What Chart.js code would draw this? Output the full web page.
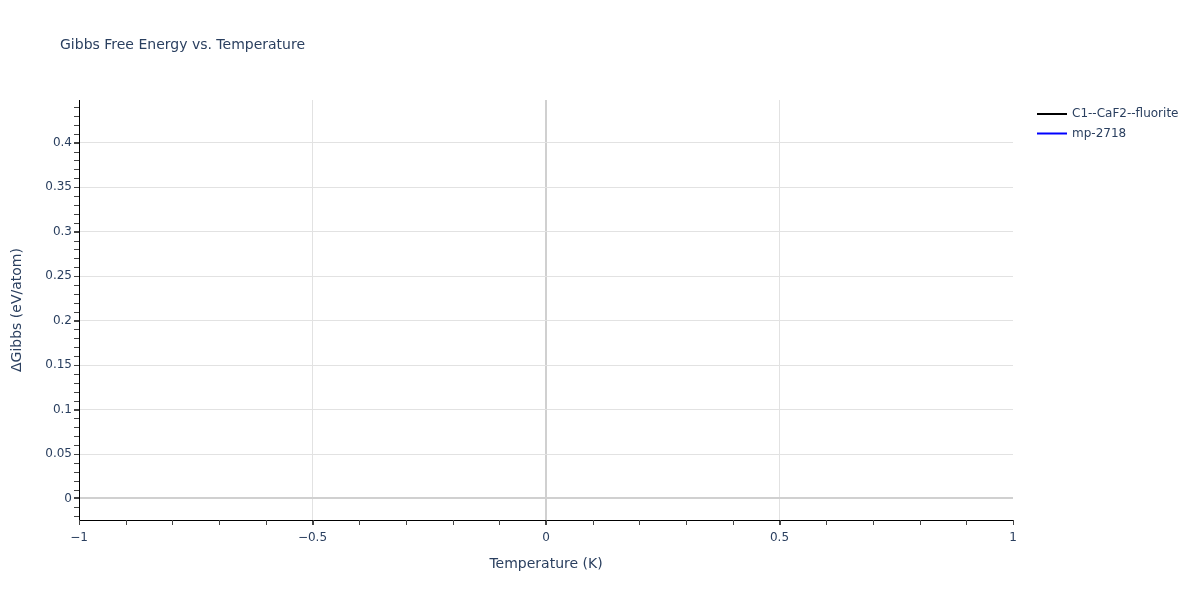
<!DOCTYPE html>
<html>
<head>
<meta charset="utf-8">
<script src="https://cdn.jsdelivr.net/npm/chart.js@4"></script>
<style>
  html, body { margin: 0; padding: 0; background: #fff; }
  #wrap { width: 1200px; height: 600px; position: relative; }
</style>
</head>
<body>
<div id="wrap"><canvas id="c" width="1200" height="600"></canvas></div>
<script>
// ---- data ----
const seriesNames = ["C1--CaF2--fluorite", "mp-2718"];
const seriesColors = ["#000000", "#0000ff"];
const temperatures = [0];
const gibbsFluorite = [0];
const gibbsMp2718 = [0];
const xTickValues = [-1, -0.5, 0, 0.5, 1];
const xTickLabels = ["\u22121", "\u22120.5", "0", "0.5", "1"];
const yTickValues = [0, 0.05, 0.1, 0.15, 0.2, 0.25, 0.3, 0.35, 0.4];
const yTickLabels = ["0", "0.05", "0.1", "0.15", "0.2", "0.25", "0.3", "0.35", "0.4"];
const xRange = [-1, 1];
const yRange = [-0.0242, 0.448];

const FONT = "'DejaVu Sans', Verdana, sans-serif";
const TXT = "#2a3f5f";

const mk = (ys) => temperatures.map((t, i) => ({x: t, y: ys[i]}));

const extras = {
  id: 'extras',
  beforeDatasetsDraw(chart) {
    const ctx = chart.ctx;
    const xs = chart.scales.x, ys = chart.scales.y;
    const area = chart.chartArea;
    ctx.save();
    ctx.strokeStyle = '#444';
    ctx.lineWidth = 1;
    // minor y ticks
    for (let k = -2; k <= 44; k++) {
      const v = k / 100;
      const py = Math.round(ys.getPixelForValue(v)) + 0.5;
      ctx.beginPath(); ctx.moveTo(area.left - 5, py); ctx.lineTo(area.left, py); ctx.stroke();
    }
    // minor x ticks
    for (let k = -10; k <= 10; k++) {
      const v = k / 10;
      const px = Math.round(xs.getPixelForValue(v)) + 0.5;
      ctx.beginPath(); ctx.moveTo(px, area.bottom); ctx.lineTo(px, area.bottom + 5); ctx.stroke();
    }
    ctx.restore();
  },
  afterDraw(chart) {
    const ctx = chart.ctx;
    ctx.save();
    // title
    ctx.fillStyle = TXT;
    ctx.font = "14px " + FONT;
    ctx.textBaseline = 'middle';
    ctx.textAlign = 'left';
    ctx.fillText("Gibbs Free Energy vs. Temperature", 60, 45.5);
    // legend
    ctx.font = "12px " + FONT;
    seriesNames.forEach((n, i) => {
      const y = 114 + i * 19.5;
      ctx.strokeStyle = seriesColors[i];
      ctx.lineWidth = 2;
      ctx.beginPath(); ctx.moveTo(1037, y); ctx.lineTo(1067, y); ctx.stroke();
      ctx.fillStyle = TXT;
      ctx.fillText(n, 1072, y);
    });
    ctx.restore();
  }
};

new Chart(document.getElementById('c'), {
  type: 'line',
  data: {
    datasets: [
      { label: seriesNames[0], data: mk(gibbsFluorite), borderColor: seriesColors[0], borderWidth: 2, pointRadius: 0, fill: false },
      { label: seriesNames[1], data: mk(gibbsMp2718), borderColor: seriesColors[1], borderWidth: 2, pointRadius: 0, fill: false }
    ]
  },
  options: {
    responsive: false,
    animation: false,
    devicePixelRatio: 1,
    layout: { padding: { top: 100, right: 187, left: 0, bottom: 0 } },
    plugins: { legend: { display: false }, title: { display: false }, tooltip: { enabled: false } },
    scales: {
      x: {
        type: 'linear',
        min: xRange[0], max: xRange[1],
        afterFit(s) { s.height = 80; },
        afterBuildTicks(s) { s.ticks = xTickValues.map(v => ({value: v})); },
        ticks: {
          callback: (v) => { const i = xTickValues.indexOf(v); return i >= 0 ? xTickLabels[i] : ''; },
          color: TXT, font: { family: FONT, size: 12 }, padding: 6, maxRotation: 0
        },
        grid: {
          color: (c) => (c.tick && c.tick.value === 0) ? '#d0d0d0' : ((c.tick && (c.tick.value === -1 || c.tick.value === 1)) ? 'rgba(0,0,0,0)' : '#e2e2e2'),
          lineWidth: (c) => (c.tick && c.tick.value === 0) ? 2 : 1,
          tickColor: '#444', tickLength: 5, drawTicks: true
        },
        border: { display: true, color: '#000', width: 1 },
        title: { display: true, text: 'Temperature (K)', color: TXT, font: { family: FONT, size: 14 }, padding: { top: 0, bottom: 27 } }
      },
      y: {
        type: 'linear',
        min: yRange[0], max: yRange[1],
        afterFit(s) { s.width = 79; },
        afterBuildTicks(s) { s.ticks = yTickValues.map(v => ({value: v})); },
        ticks: {
          callback: (v) => { const i = yTickValues.indexOf(v); return i >= 0 ? yTickLabels[i] : ''; },
          color: TXT, font: { family: FONT, size: 12 }, padding: 2
        },
        grid: {
          color: (c) => (c.tick && c.tick.value === 0) ? '#d0d0d0' : '#e2e2e2',
          lineWidth: (c) => (c.tick && c.tick.value === 0) ? 2 : 1,
          tickColor: '#444', tickLength: 5, drawTicks: true
        },
        border: { display: true, color: '#000', width: 1 },
        title: { display: true, text: '\u0394Gibbs (eV/atom)', color: TXT, font: { family: FONT, size: 14 }, padding: { top: 9, bottom: 0 } }
      }
    }
  },
  plugins: [extras]
});
</script>
</body>
</html>
